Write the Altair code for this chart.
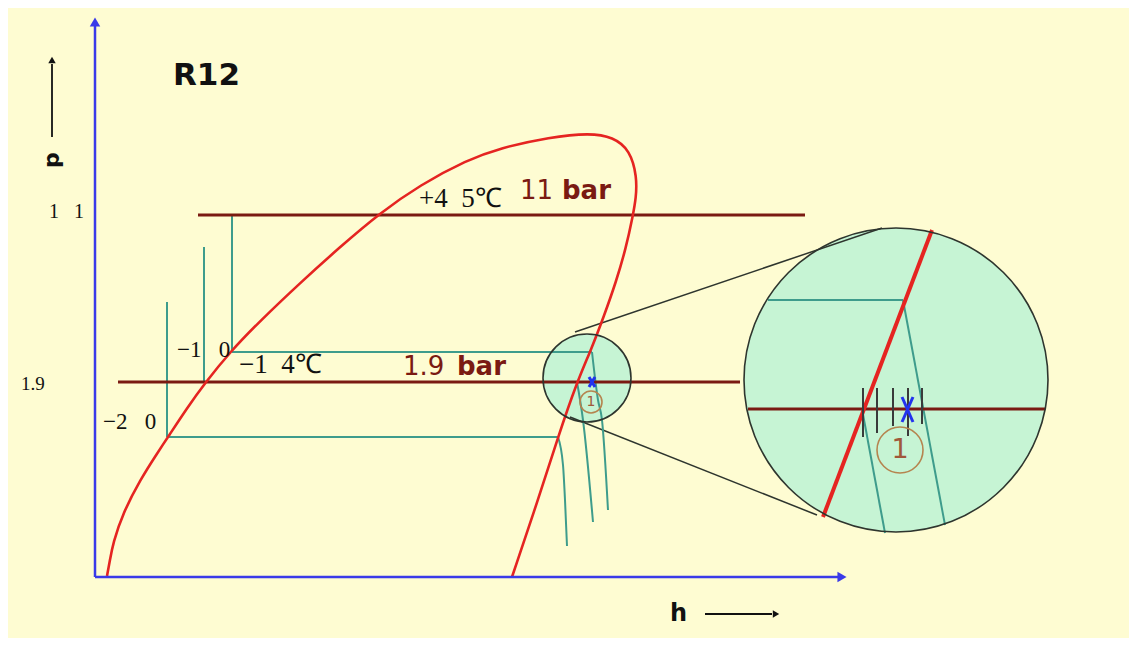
import altair as alt
import pandas as pd

# ---------------- data (diagram units: h to the right, p drawn downwards) ----------------
dome_h = [107, 110, 113, 123, 140, 158, 168, 187, 205, 230, 260, 300, 340, 380, 420, 467, 500, 550, 590, 613, 630, 637, 636, 633, 626, 616, 604, 591, 577, 558, 538, 513, 512]
dome_p = [576, 560, 543, 513, 480, 452, 437, 408, 383, 352, 321, 283, 247, 213, 185, 160, 148, 137, 133, 137, 150, 177, 198, 215, 248, 282, 316, 350, 382, 437, 500, 574, 577]

isobar_h1 = [198, 118, 748]
isobar_h2 = [805, 740, 1045]
isobar_p = [215, 382, 409]

teal_h1 = [232, 204, 167, 232, 167, 768, 903, 862]
teal_p1 = [215, 247, 302, 352, 437, 300, 300, 409]
teal_h2 = [232, 204, 167, 592, 558, 903, 945, 885]
teal_p2 = [352, 383, 437, 352, 437, 300, 525, 533]

exp_id = [0, 0, 0, 0, 1, 1, 1, 2, 2, 2, 2]
exp_h = [558, 563, 565, 567, 577, 583, 593, 592, 598, 602, 608]
exp_p = [437, 465, 500, 546, 382, 420, 522, 352, 400, 420, 510]

zoom_red_h = [932, 823]
zoom_red_p = [230, 517]

tangent_h1 = [575, 570]
tangent_p1 = [332, 417]
tangent_h2 = [882, 817]
tangent_p2 = [228, 515]

tick_h = [863, 877, 893, 908, 922]
tick_top = [388, 388, 388, 388, 388]
tick_bot = [437, 433, 426, 436, 424]

mark_x_h1 = [902, 913, 589, 595]
mark_x_p1 = [397, 397, 377, 377]
mark_x_h2 = [913, 902, 595, 589]
mark_x_p2 = [422, 422, 387, 387]

lens_h = [896, 587]
lens_p = [380, 378]
lens_d = [304, 88]

state_h = [900, 591]
state_p = [450, 402]
state_d = [46, 22]
state_fs = [27, 14]

axis_h1 = [95, 95]
axis_p1 = [577, 577]
axis_h2 = [95, 838]
axis_p2 = [26, 577]

arrow_h1 = [52, 705]
arrow_p1 = [137, 614]
arrow_h2 = [52, 772]
arrow_p2 = [64, 614]

NB = "\u00a0"
serif_txt = ["1" + NB * 3 + "1", "1.9", "\u22122" + NB * 3 + "0", "\u22121" + NB * 3 + "0",
             "\u22121" + NB * 2 + "4\u2103", "+4" + NB * 2 + "5\u2103"]
serif_h = [49, 21, 103, 177, 239, 419]
serif_p = [218, 390, 429, 357, 373, 207]
serif_fs = [20, 19, 23, 23, 27, 27]

press_txt = ["11", "1.9"]
press_h = [520, 403]
press_p = [199, 375]
bar_h = [562, 457]

# ---------------- helpers ----------------
xs = alt.Scale(domain=[8, 1129], nice=False, zero=False)
ys = alt.Scale(domain=[8, 638], nice=False, zero=False, reverse=True)


def X(f):
    return alt.X(f, type="quantitative", scale=xs, axis=None)


def Y(f):
    return alt.Y(f, type="quantitative", scale=ys, axis=None)


def segs(h1, p1, h2, p2, color, width, cap="butt"):
    df = pd.DataFrame({"h1": h1, "p1": p1, "h2": h2, "p2": p2})
    return alt.Chart(df).mark_rule(color=color, strokeWidth=width, strokeCap=cap).encode(
        x=X("h1"), y=Y("p1"), x2="h2", y2="p2"
    )


RED = "#E52421"
MAROON = "#7A1A12"
TEAL = "#3E9C8C"
BLUE = "#3A3AE8"
MINT = "#C6F4D4"
DARK = "#2E352E"
BROWN = "#B5844F"
SANS = "DejaVu Sans"
SERIF = "Liberation Serif"

lens_df = pd.DataFrame({"h": lens_h, "p": lens_p, "s": [d * d for d in lens_d]})
lens_fill = alt.Chart(lens_df).mark_point(shape="circle", filled=True, color=MINT, opacity=1).encode(
    x=X("h"), y=Y("p"), size=alt.Size("s:Q", scale=None)
)
lens_edge = alt.Chart(lens_df).mark_point(shape="circle", filled=False, color=DARK, strokeWidth=1.6, opacity=1).encode(
    x=X("h"), y=Y("p"), size=alt.Size("s:Q", scale=None)
)

tangents = segs(tangent_h1, tangent_p1, tangent_h2, tangent_p2, DARK, 1.5)
teal = segs(teal_h1, teal_p1, teal_h2, teal_p2, TEAL, 2)
exp_df = pd.DataFrame({"id": exp_id, "h": exp_h, "p": exp_p, "o": list(range(len(exp_h)))})
expansion = alt.Chart(exp_df).mark_line(color=TEAL, strokeWidth=2, interpolate="monotone").encode(
    x=X("h"), y=Y("p"), detail="id:N", order="o:Q"
)
isobars = segs(isobar_h1, isobar_p, isobar_h2, isobar_p, MAROON, 3)

dome_df = pd.DataFrame({"h": dome_h, "p": dome_p, "o": list(range(len(dome_h)))})
dome = alt.Chart(dome_df).mark_line(color=RED, strokeWidth=2.6, interpolate="basis").encode(
    x=X("h"), y=Y("p"), order="o:Q"
)
zoom_red = segs([zoom_red_h[0]], [zoom_red_p[0]], [zoom_red_h[1]], [zoom_red_p[1]], RED, 4)

ticks = segs(tick_h, tick_top, tick_h, tick_bot, "#3A3A3A", 2)
crosses = segs(mark_x_h1, mark_x_p1, mark_x_h2, mark_x_p2, "#2233EE", 3)

state_df = pd.DataFrame({"h": state_h, "p": state_p, "s": [d * d for d in state_d], "fs": state_fs, "t": ["1", "1"]})
state_ring = alt.Chart(state_df).mark_point(shape="circle", filled=False, color=BROWN, strokeWidth=1.6, opacity=1).encode(
    x=X("h"), y=Y("p"), size=alt.Size("s:Q", scale=None)
)
state_txt = alt.Chart(state_df).mark_text(color="#A0583A", font=SANS, align="center", baseline="middle").encode(
    x=X("h"), y=Y("p"), text="t:N", size=alt.Size("fs:Q", scale=None)
)

axes = segs(axis_h1, axis_p1, axis_h2, axis_p2, BLUE, 2.5)
axis_heads = alt.Chart(pd.DataFrame({"h": [95, 842], "p": [22, 577], "sh": ["triangle-up", "triangle-right"]})).mark_point(
    filled=True, color=BLUE, size=110, opacity=1
).encode(x=X("h"), y=Y("p"), shape=alt.Shape("sh:N", scale=None))

arrows = segs(arrow_h1, arrow_p1, arrow_h2, arrow_p2, "#111111", 1.8)
arrow_heads = alt.Chart(pd.DataFrame({"h": [52, 776], "p": [60, 614], "sh": ["triangle-up", "triangle-right"]})).mark_point(
    filled=True, color="#111111", size=55, opacity=1
).encode(x=X("h"), y=Y("p"), shape=alt.Shape("sh:N", scale=None))

serif_df = pd.DataFrame({"t": serif_txt, "h": serif_h, "p": serif_p, "fs": serif_fs})
serif_text = alt.Chart(serif_df).mark_text(font=SERIF, color="#111111", align="left", baseline="alphabetic").encode(
    x=X("h"), y=Y("p"), text="t:N", size=alt.Size("fs:Q", scale=None)
)

press_df = pd.DataFrame({"t": press_txt, "h": press_h, "p": press_p})
press_text = alt.Chart(press_df).mark_text(font=SANS, fontSize=26, color=MAROON, align="left", baseline="alphabetic").encode(
    x=X("h"), y=Y("p"), text="t:N"
)
bar_df = pd.DataFrame({"t": ["bar", "bar"], "h": bar_h, "p": press_p})
bar_text = alt.Chart(bar_df).mark_text(font=SANS, fontSize=26, fontWeight="bold", color=MAROON, align="left", baseline="alphabetic").encode(
    x=X("h"), y=Y("p"), text="t:N"
)

title_df = pd.DataFrame({"t": ["R12", "h"], "h": [173, 670], "p": [85, 621], "fs": [31, 24]})
title_text = alt.Chart(title_df).mark_text(font=SANS, fontWeight="bold", color="#111111", align="left", baseline="alphabetic").encode(
    x=X("h"), y=Y("p"), text="t:N", size=alt.Size("fs:Q", scale=None)
)
p_text = alt.Chart(pd.DataFrame({"t": ["p"], "h": [52], "p": [160]})).mark_text(
    font=SANS, fontWeight="bold", fontSize=22, angle=270, color="#111111", align="center", baseline="middle"
).encode(x=X("h"), y=Y("p"), text="t:N")

chart = alt.layer(
    lens_fill, tangents, teal, expansion, isobars, dome, zoom_red, ticks, crosses,
    lens_edge, state_ring, state_txt, axes, axis_heads, arrows, arrow_heads,
    serif_text, press_text, bar_text, title_text, p_text,
).properties(
    width=1121, height=630, padding=0, autosize=alt.AutoSizeParams(type="none")
).configure(background="#FEFCD2").configure_view(stroke=None)

chart.save("out.html", embed_options={"renderer": "svg", "actions": False})
